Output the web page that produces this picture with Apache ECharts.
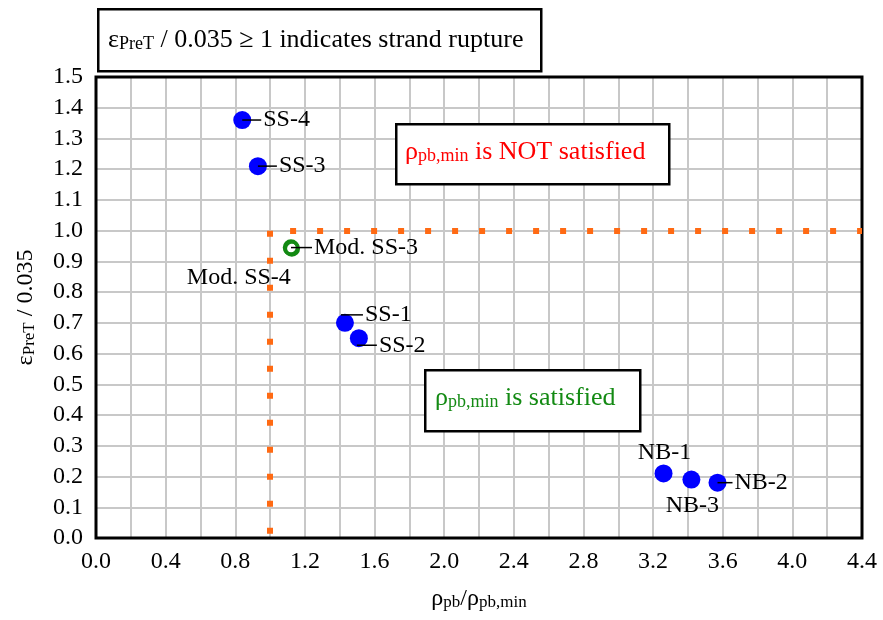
<!DOCTYPE html>
<html>
<head>
    <meta charset="utf-8">
    <script src="https://cdn.jsdelivr.net/npm/echarts@6/dist/echarts.min.js"></script>
    <style>
        * { margin: 0; padding: 0; }
        #main { width: 883px; height: 620px; background: #fff; }
    </style>
</head>
<body>
    <div id="main"></div>
    <script type="text/javascript">
        // specimens (blue)
        var names = ['SS-1', 'SS-2', 'SS-3', 'SS-4', 'NB-1', 'NB-2', 'NB-3'];
        var ratioX = [1.43, 1.51, 0.93, 0.84, 3.26, 3.57, 3.42];
        var strainY = [0.70, 0.65, 1.21, 1.36, 0.21, 0.18, 0.19];
        // modified specimens (green rings)
        var modNames = ['Mod. SS-3', 'Mod. SS-4'];
        var modX = [1.12, 1.125];
        var modY = [0.945, 0.942];
        // limit lines
        var limitX = 1.0;
        var limitY = 1.0;
        var xMax = 4.4;

        var FONT = 'Liberation Serif';
        var sub = { fontSize: 17, fontFamily: FONT, color: '#000', padding: [8, 0, 0, 0] };

        // label placement for each point
        var labelCfg = {
            'SS-1': { line: 22, offset: [-4, -8] },
            'SS-2': { line: 20, offset: [-2, 7] },
            'SS-3': { line: 19, offset: [0, 0] },
            'SS-4': { line: 19, offset: [0, 0] },
            'NB-1': { pos: 'top' },
            'NB-2': { line: 15, offset: [0, 0] },
            'NB-3': { pos: 'bottom' },
            'Mod. SS-3': { line: 21, offset: [0, 0] },
            'Mod. SS-4': { left: true, offset: [-1, 29] }
        };

        function makeLabel(name) {
            var c = labelCfg[name];
            var rich = {
                l: { width: c.line || 0, height: 1.5, backgroundColor: '#000' },
                t: { fontSize: 24, fontFamily: FONT, color: '#000', padding: [0, 0, 0, 2] }
            };
            if (c.pos) {
                return { show: true, position: c.pos, distance: c.pos === 'top' ? 0 : 5, formatter: '{t|' + name + '}', rich: rich };
            }
            if (c.left) {
                return { show: true, position: ['50%', '50%'], align: 'right', verticalAlign: 'middle', offset: c.offset, formatter: '{t|' + name + '}', rich: rich };
            }
            return { show: true, position: ['50%', '50%'], align: 'left', verticalAlign: 'middle', offset: c.offset, formatter: '{l|}{t|' + name + '}', rich: rich };
        }

        var mainData = names.map(function (n, i) {
            return { name: n, value: [ratioX[i], strainY[i]], label: makeLabel(n) };
        });
        var modData = modNames.map(function (n, i) {
            return { name: n, value: [modX[i], modY[i]], label: makeLabel(n) };
        });

        var myChart = echarts.init(document.getElementById('main'));
        var gridLine = { show: true, lineStyle: { color: '#c8c8c8', width: 2 } };
        var dotStyle = { color: '#ff6a13', width: 6, type: [6, 21] };

        var option = {
            animation: false,
            backgroundColor: '#fff',
            grid: { left: 96, right: 21, top: 77, bottom: 82, show: true, borderColor: '#000', borderWidth: 3, z: 5 },
            xAxis: {
                type: 'value', min: 0, max: xMax, interval: 0.4,
                name: '{a|ρ}{s|pb}{a|/ρ}{s|pb,min}',
                nameLocation: 'middle', nameGap: 48,
                nameTextStyle: { rich: { a: { fontSize: 24, fontFamily: FONT, color: '#000' }, s: sub } },
                axisLine: { show: false },
                axisTick: { show: false },
                axisLabel: { fontSize: 24, fontFamily: FONT, color: '#000', margin: 12, formatter: function (v) { return v.toFixed(1); } },
                splitLine: gridLine,
                minorTick: { show: false, splitNumber: 2 },
                minorSplitLine: gridLine
            },
            yAxis: {
                type: 'value', min: 0, max: 1.5, interval: 0.1,
                name: '{a|ε}{s|PreT}{a| / 0.035}',
                nameLocation: 'middle', nameGap: 58, nameRotate: 90,
                nameTextStyle: { rich: { a: { fontSize: 24, fontFamily: FONT, color: '#000' }, s: sub } },
                axisLine: { show: false },
                axisTick: { show: false },
                axisLabel: { fontSize: 24, fontFamily: FONT, color: '#000', margin: 13, formatter: function (v) { return v.toFixed(1); } },
                splitLine: gridLine
            },
            series: [{
                type: 'scatter',
                symbolSize: 18,
                itemStyle: { color: '#0000ff', opacity: 1 },
                data: mainData,
                z: 3,
                markLine: {
                    silent: true,
                    symbol: 'none',
                    label: { show: false },
                    lineStyle: dotStyle,
                    data: [
                        [{ coord: [limitX, limitY], lineStyle: { dashOffset: 7 } }, { coord: [xMax, limitY] }],
                        [{ coord: [limitX, limitY], lineStyle: { dashOffset: 0 } }, { coord: [limitX, 0] }]
                    ]
                }
            }, {
                type: 'scatter',
                symbol: 'circle',
                symbolSize: 13,
                itemStyle: { color: 'rgba(255,255,255,0)', borderColor: '#138a13', borderWidth: 3.5, opacity: 1 },
                data: modData,
                z: 4
            }],
            graphic: [
                { type: 'rect', left: 97, top: 8, shape: { width: 443, height: 62 }, style: { fill: '#fff', stroke: '#000', lineWidth: 2.5 }, z: 10 },
                { type: 'text', left: 108, top: 27, z: 11, style: {
                    text: '{a|ε}{s|PreT}{a| / 0.035 ≥ 1 indicates strand rupture}',
                    rich: { a: { fontSize: 26, fontFamily: FONT, fill: '#000' }, s: { fontSize: 18, fontFamily: FONT, fill: '#000', padding: [9, 0, 0, 0] } }
                } },
                { type: 'rect', left: 395, top: 123, shape: { width: 273, height: 60 }, style: { fill: '#fff', stroke: '#000', lineWidth: 2.5 }, z: 10 },
                { type: 'text', left: 405, top: 139, z: 11, style: {
                    text: '{a|ρ}{s|pb,min}{a| is NOT satisfied}',
                    rich: { a: { fontSize: 26, fontFamily: FONT, fill: '#ff0000' }, s: { fontSize: 18, fontFamily: FONT, fill: '#ff0000', padding: [9, 0, 0, 0] } }
                } },
                { type: 'rect', left: 424, top: 369, shape: { width: 215, height: 61 }, style: { fill: '#fff', stroke: '#000', lineWidth: 2.5 }, z: 10 },
                { type: 'text', left: 435, top: 385, z: 11, style: {
                    text: '{a|ρ}{s|pb,min}{a| is satisfied}',
                    rich: { a: { fontSize: 26, fontFamily: FONT, fill: '#138a13' }, s: { fontSize: 18, fontFamily: FONT, fill: '#138a13', padding: [9, 0, 0, 0] } }
                } }
            ]
        };

        myChart.setOption(option);
    </script>
</body>
</html>
